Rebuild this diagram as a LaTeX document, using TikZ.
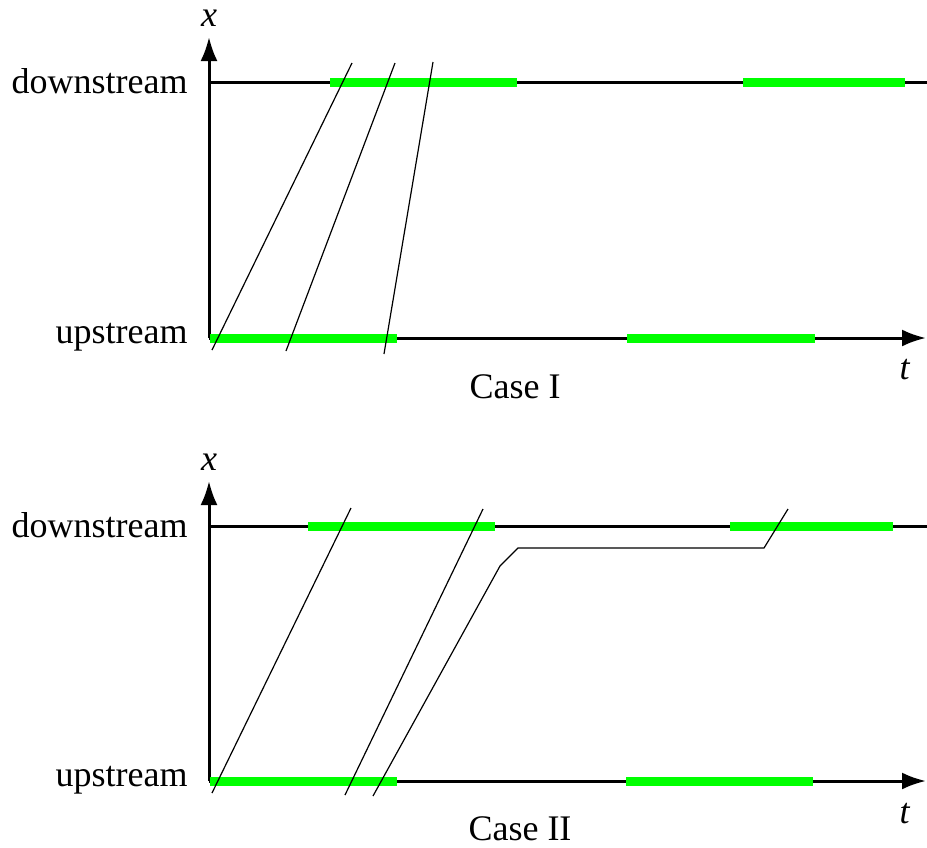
\documentclass[tikz,border=0pt]{standalone}
\usepackage{fontspec}
\setmainfont{Liberation Serif}
\usepackage{tikz}
\usetikzlibrary{arrows.meta}
\definecolor{greenc}{HTML}{00FF00}
\tikzset{
  axis/.style={line width=1.5pt, -{Latex[length=12pt,width=8.5pt]}},
  level/.style={line width=1.5pt},
  green/.style={draw=greenc, line width=4.5pt},
  traj/.style={line width=0.6pt},
  lab/.style={font=\fontsize{18}{20}\selectfont, inner sep=0pt},
}

\begin{document}
\begin{tikzpicture}[x=0.5pt,y=-0.5pt]
\useasboundingbox (0,0) rectangle (927,847);
% Case I
\coordinate (oA) at (209,338);
\coordinate (xA) at (209,37);
\coordinate (tA) at (926,338);
\coordinate (dA) at (209,82);
\coordinate (eA) at (927,82);
\draw[level] (dA) -- (eA);
\draw[axis] (oA) -- (xA);
\draw[axis] (oA) -- (tA);
\draw[green] (330,82) -- (517,82);
\draw[green] (743,82) -- (905,82);
\draw[green] (210,338) -- (397,338);
\draw[green] (627,338) -- (815,338);
\draw[traj] (212,350) -- (352,63);
\draw[traj] (286,351) -- (395,63);
\draw[traj] (384,354) -- (433,62);
\node[lab, anchor=east] (downA) at (188,81) {downstream};
\node[lab, anchor=east] (upA) at (188,337) {upstream};
\node[lab] (xlabA) at (209,18) {\textit{x}};
\node[lab] (tlabA) at (905,370) {\textit{t}};
\node[lab] (caseA) at (515,387) {Case I};
% Case II
\coordinate (oB) at (209,781);
\coordinate (xB) at (209,481);
\coordinate (tB) at (926,781);
\coordinate (dB) at (209,526);
\coordinate (eB) at (927,526);
\draw[level] (dB) -- (eB);
\draw[axis] (oB) -- (xB);
\draw[axis] (oB) -- (tB);
\draw[green] (308,526) -- (495,526);
\draw[green] (730,526) -- (893,526);
\draw[green] (210,781) -- (397,781);
\draw[green] (626,781) -- (813,781);
\draw[traj] (212,793) -- (351,508);
\draw[traj] (345,795) -- (483,509);
\draw[traj] (373,796) -- (500,566) -- (518,548) -- (764,548) -- (788,509);
\node[lab, anchor=east] (downB) at (188,525) {downstream};
\node[lab, anchor=east] (upB) at (188,780) {upstream};
\node[lab] (xlabB) at (209,462) {\textit{x}};
\node[lab] (tlabB) at (905,814) {\textit{t}};
\node[lab] (caseB) at (520,829) {Case II};
\end{tikzpicture}
\end{document}
